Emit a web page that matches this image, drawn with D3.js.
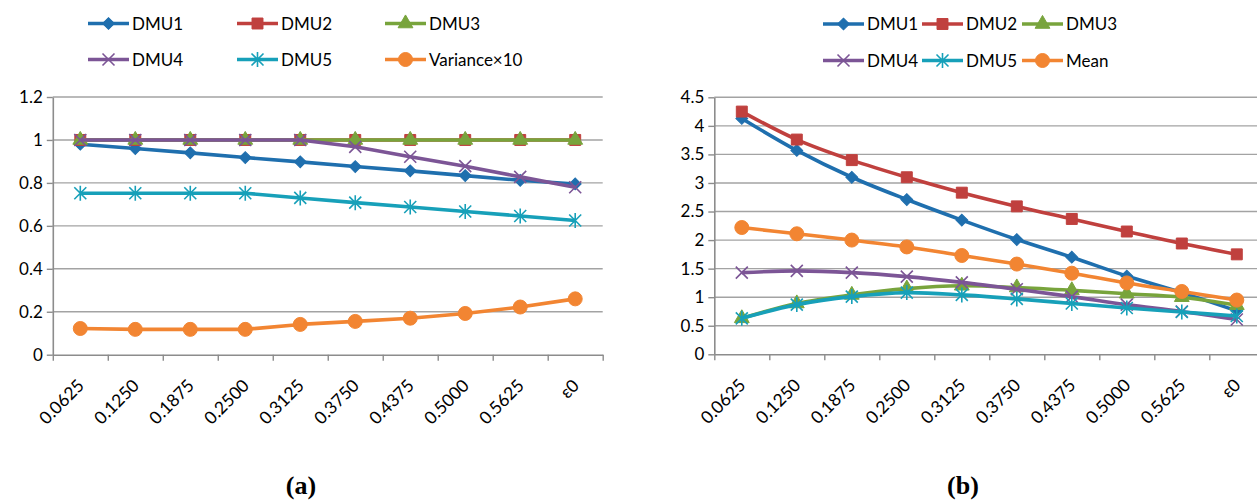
<!DOCTYPE html>
<html>
<head>
<meta charset="utf-8">
<script src="https://cdn.jsdelivr.net/npm/d3@7"></script>
<style>
  html, body { margin: 0; padding: 0; background: #fff; }
  svg { display: block; }
  .sans { font-family: Lato, "Open Sans", sans-serif; fill: #000; }
  .caption { font-family: "Liberation Serif", "Times New Roman", serif; font-weight: bold; fill: #000; }
</style>
</head>
<body>
<svg id="chart" width="1257" height="502"></svg>
<script>
// Category labels shared by both panels
const categories = ["0.0625", "0.1250", "0.1875", "0.2500", "0.3125",
                    "0.3750", "0.4375", "0.5000", "0.5625", "ε0"];

// Panel (a): efficiency scores and variance ×10
const dmu1A = [0.98, 0.96, 0.94, 0.918, 0.898, 0.876, 0.856, 0.834, 0.812, 0.795];
const dmu2A = [1, 1, 1, 1, 1, 1, 1, 1, 1, 1];
const dmu3A = [1, 1, 1, 1, 1, 1, 1, 1, 1, 1];
const dmu4A = [1, 1, 1, 1, 1, 0.968, 0.922, 0.878, 0.828, 0.78];
const dmu5A = [0.752, 0.752, 0.752, 0.752, 0.73, 0.708, 0.688, 0.667, 0.646, 0.625];
const varianceA = [0.122, 0.118, 0.118, 0.118, 0.141, 0.155, 0.17, 0.192, 0.222, 0.26];
const ticksA = [0, 0.2, 0.4, 0.6, 0.8, 1, 1.2];

// Panel (b): scores and their mean
const dmu1B = [4.13, 3.57, 3.1, 2.71, 2.35, 2.01, 1.7, 1.37, 1.08, 0.76];
const dmu2B = [4.25, 3.76, 3.4, 3.1, 2.83, 2.59, 2.37, 2.15, 1.94, 1.75];
const dmu3B = [0.63, 0.89, 1.04, 1.15, 1.2, 1.17, 1.12, 1.06, 1.0, 0.86];
const dmu4B = [1.43, 1.46, 1.43, 1.36, 1.26, 1.14, 1.01, 0.87, 0.75, 0.61];
const dmu5B = [0.63, 0.87, 1.01, 1.08, 1.04, 0.97, 0.89, 0.81, 0.74, 0.67];
const meanB = [2.22, 2.11, 2.0, 1.88, 1.73, 1.58, 1.42, 1.25, 1.1, 0.95];
const ticksB = [0, 0.5, 1, 1.5, 2, 2.5, 3, 3.5, 4, 4.5];

const colors = {
  dmu1: "#1f6fae", dmu2: "#c0403e", dmu3: "#78a43c",
  dmu4: "#7c5596", dmu5: "#17a0b9", extra: "#f28532"
};

const svg = d3.select("#chart");

// Marker shapes, each centred on 0,0
const markerDef = {
  diamond: g => g.append("path").attr("d", d3.symbol().type(d3.symbolSquare).size(70)()).attr("transform", "rotate(45)"),
  square: g => g.append("path").attr("d", d3.symbol().type(d3.symbolSquare).size(120)()),
  triangle: g => g.append("path").attr("d", d3.symbol().type(d3.symbolTriangle).size(95)()),
  cross: g => g.append("path").attr("d", "M-6,-6L6,6M-6,6L6,-6").attr("fill", "none").attr("stroke-width", 1.6),
  star: g => g.append("path").attr("d", "M-6,-6L6,6M-6,6L6,-6M0,-7.5L0,7.5").attr("fill", "none").attr("stroke-width", 1.6),
  circle: g => g.append("circle").attr("r", 7)
};

function drawMarker(parent, type, color, x, y) {
  const g = parent.append("g")
    .attr("transform", `translate(${x},${y})`)
    .attr("fill", color).attr("stroke", color);
  markerDef[type](g);
  return g;
}

function panel(cfg) {
  const x = d3.scaleBand().domain(categories).range([cfg.x0, cfg.x1]);
  const xEdge = d3.scaleLinear().domain([0, categories.length]).range([cfg.x0, cfg.x1]);
  const y = d3.scaleLinear().domain([0, cfg.yMax]).range([cfg.yBottom, cfg.yTop]);
  const cx = c => x(c) + x.bandwidth() / 2;

  const root = svg.append("g");

  // horizontal gridlines
  root.append("g").selectAll("line")
    .data(cfg.ticks.filter(t => t > 0))
    .join("line")
    .attr("x1", cfg.x0).attr("x2", Math.min(cfg.x1, 1257))
    .attr("y1", d => y(d)).attr("y2", d => y(d))
    .attr("stroke", "#a3a3a3").attr("stroke-width", 1.4);

  // y axis
  const yAxis = root.append("g")
    .attr("transform", `translate(${cfg.x0},0)`)
    .call(d3.axisLeft(y).tickValues(cfg.ticks).tickSize(6).tickSizeOuter(0)
      .tickFormat(d3.format("~g")));
  yAxis.select(".domain").attr("stroke", "#8c8c8c").attr("stroke-width", 1.6);
  yAxis.selectAll(".tick line").attr("stroke", "#8c8c8c").attr("stroke-width", 1.4);
  yAxis.selectAll(".tick text")
    .attr("class", "sans").attr("x", -10).attr("font-size", 17);

  // x axis with tick marks between categories
  const xAxis = root.append("g")
    .attr("transform", `translate(0,${cfg.yBottom})`)
    .call(d3.axisBottom(xEdge).tickValues(d3.range(categories.length + 1))
      .tickSize(6).tickSizeOuter(0).tickFormat(""));
  xAxis.select(".domain").attr("stroke", "#8c8c8c").attr("stroke-width", 1.6);
  xAxis.selectAll(".tick line").attr("stroke", "#8c8c8c").attr("stroke-width", 1.4);

  // rotated category labels
  root.append("g").selectAll("text")
    .data(categories)
    .join("text")
    .attr("class", "sans")
    .attr("transform", d => `translate(${cx(d) + 5},${cfg.yBottom + 32}) rotate(-45)`)
    .attr("text-anchor", "end")
    .attr("font-size", 17.5)
    .text(d => d);

  // series lines, then markers
  const line = d3.line()
    .x((d, i) => cx(categories[i]))
    .y(d => y(d))
    .curve(cfg.smooth ? d3.curveCatmullRom.alpha(0) : d3.curveLinear);

  cfg.series.forEach(s => {
    root.append("path")
      .datum(s.values)
      .attr("d", line)
      .attr("fill", "none")
      .attr("stroke", s.color)
      .attr("stroke-width", 3.6)
      .attr("stroke-linejoin", "round");
    const mg = root.append("g");
    s.values.forEach((v, i) => drawMarker(mg, s.marker, s.color, cx(categories[i]), y(v)));
  });

  // legend
  cfg.series.forEach((s, i) => {
    const col = i % 3, row = Math.floor(i / 3);
    const lx = cfg.legendX[col], ly = cfg.legendY[row];
    const lg = root.append("g");
    lg.append("line").attr("x1", lx).attr("x2", lx + 41).attr("y1", ly).attr("y2", ly)
      .attr("stroke", s.color).attr("stroke-width", 3.6);
    drawMarker(lg, s.marker, s.color, lx + 20.5, ly);
    lg.append("text").attr("class", "sans").attr("x", lx + 44).attr("y", ly).attr("dy", "0.36em")
      .attr("font-size", 17).text(s.name);
  });

  // panel caption
  root.append("text")
    .attr("class", "caption")
    .attr("x", cfg.captionX).attr("y", 494)
    .attr("text-anchor", "middle")
    .attr("font-size", 26)
    .text(cfg.caption);
}

panel({
  x0: 52.8, x1: 602.7, yTop: 97, yBottom: 354.7, yMax: 1.2, ticks: ticksA,
  smooth: false, caption: "(a)", captionX: 301,
  legendX: [88, 237, 385], legendY: [23.5, 59.5],
  series: [
    { name: "DMU1", values: dmu1A, color: colors.dmu1, marker: "diamond" },
    { name: "DMU2", values: dmu2A, color: colors.dmu2, marker: "square" },
    { name: "DMU3", values: dmu3A, color: colors.dmu3, marker: "triangle" },
    { name: "DMU4", values: dmu4A, color: colors.dmu4, marker: "cross" },
    { name: "DMU5", values: dmu5A, color: colors.dmu5, marker: "star" },
    { name: "Variance×10", values: varianceA, color: colors.extra, marker: "circle" }
  ]
});

panel({
  x0: 714.3, x1: 1264.3, yTop: 97.3, yBottom: 354.3, yMax: 4.5, ticks: ticksB,
  smooth: true, caption: "(b)", captionX: 963,
  legendX: [823, 922, 1022], legendY: [24, 60.5],
  series: [
    { name: "DMU1", values: dmu1B, color: colors.dmu1, marker: "diamond" },
    { name: "DMU2", values: dmu2B, color: colors.dmu2, marker: "square" },
    { name: "DMU3", values: dmu3B, color: colors.dmu3, marker: "triangle" },
    { name: "DMU4", values: dmu4B, color: colors.dmu4, marker: "cross" },
    { name: "DMU5", values: dmu5B, color: colors.dmu5, marker: "star" },
    { name: "Mean", values: meanB, color: colors.extra, marker: "circle" }
  ]
});
</script>
</body>
</html>
